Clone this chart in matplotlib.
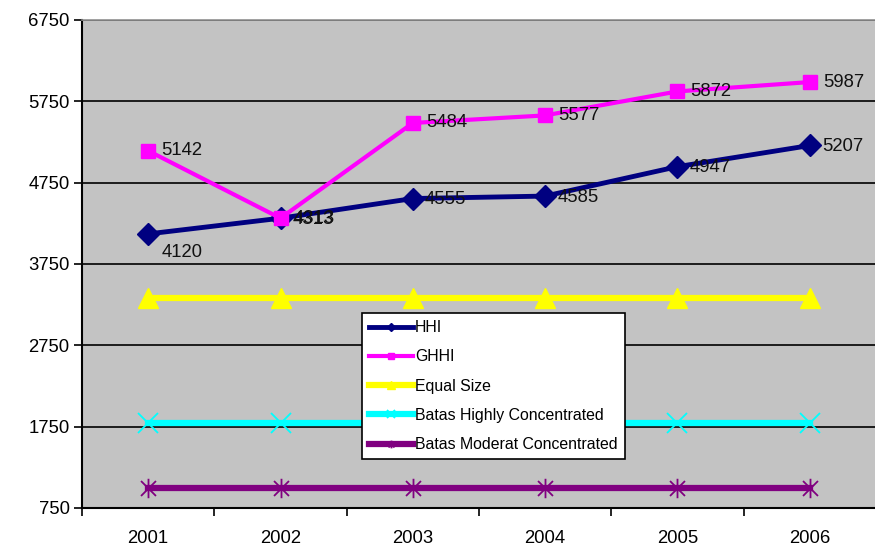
import matplotlib
matplotlib.use("Agg")
import matplotlib.pyplot as plt
from matplotlib.path import Path

years = ["2001", "2002", "2003", "2004", "2005", "2006"]
hhi = [4120, 4313, 4555, 4585, 4947, 5207]
ghhi = [5142, 4313, 5484, 5577, 5872, 5987]
equal_size = [3333, 3333, 3333, 3333, 3333, 3333]
batas_high = [1800, 1800, 1800, 1800, 1800, 1800]
batas_mod = [1000, 1000, 1000, 1000, 1000, 1000]
yticks = [750, 1750, 2750, 3750, 4750, 5750, 6750]

plt.rcParams['font.family'] = ['Liberation Sans', 'DejaVu Sans']

fig = plt.figure(figsize=(8.75, 5.51), dpi=100)
ax = fig.add_axes([82/875, 1-508/551, 794/875, 488/551])
ax.set_facecolor('#C3C3C3')

x = list(range(len(years)))

star = Path([(-1, -1), (1, 1), (-1, 1), (1, -1), (0, -1.3), (0, 1.3)],
            [Path.MOVETO, Path.LINETO, Path.MOVETO, Path.LINETO, Path.MOVETO, Path.LINETO])

ax.plot(x, batas_mod, color='#800080', lw=4.5, marker=star, ms=14, mew=1.3,
        mec='#800080', label='Batas Moderat Concentrated', zorder=3)
ax.plot(x, batas_high, color='#00FFFF', lw=4.5, marker='x', ms=14, mew=1.3,
        mec='#00FFFF', label='Batas Highly Concentrated', zorder=3)
ax.plot(x, equal_size, color='#FFFF00', lw=4.5, marker='^', ms=15,
        label='Equal Size', zorder=3)
ax.plot(x, hhi, color='#000080', lw=3.5, marker='D', ms=11,
        label='HHI', zorder=4)
ax.plot(x, ghhi, color='#FF00FF', lw=3, marker='s', ms=10,
        label='GHHI', zorder=5)

for i, v in enumerate(hhi):
    off = (13, -19) if i == 0 else (12, -1)
    ax.annotate(str(v), (x[i], v), xytext=off, textcoords='offset pixels',
                ha='left', va='center', fontsize=13.3, color='#111111', zorder=6)
for i, v in enumerate(ghhi):
    ax.annotate(str(v), (x[i], v), xytext=(13, 0), textcoords='offset pixels',
                ha='left', va='center', fontsize=13.3, color='#111111', zorder=6)

ax.set_xlim(-0.5, len(years) - 0.5)
ax.set_ylim(750, 6750)
ax.set_yticks(yticks)
ax.set_yticklabels([str(t) for t in yticks], fontsize=13.3)
ax.yaxis.grid(True, color='black', lw=1.2)
ax.set_axisbelow(True)
ax.tick_params(axis='y', direction='out', length=6, width=1.2, pad=3)

ax.set_xticks([i - 0.5 for i in range(len(years))] + [len(years) - 0.5])
ax.set_xticklabels([])
ax.set_xticks(x, minor=True)
ax.set_xticklabels(years, minor=True, fontsize=13.3)
ax.tick_params(axis='x', which='major', direction='out', length=6, width=1.2)
ax.tick_params(axis='x', which='minor', length=0, pad=16)

for s in ['left', 'bottom']:
    ax.spines[s].set_color('black')
    ax.spines[s].set_linewidth(1.5)
ax.spines['top'].set_color('#909090')
ax.spines['top'].set_linewidth(1.2)
ax.spines['right'].set_visible(False)

handles, labels = ax.get_legend_handles_labels()
order = ['HHI', 'GHHI', 'Equal Size', 'Batas Highly Concentrated', 'Batas Moderat Concentrated']
hmap = dict(zip(labels, handles))
leg = ax.legend([hmap[o] for o in order], order, loc='upper left',
                bbox_to_anchor=((362-82)/794, (508-313)/488), borderaxespad=0,
                fontsize=11.4, frameon=True, fancybox=False, shadow=False,
                handlelength=2.8, handletextpad=0.1, labelspacing=0.9,
                borderpad=0.45, markerscale=0.4)
leg.get_frame().set_edgecolor('black')
leg.get_frame().set_linewidth(1.2)
leg.get_frame().set_facecolor('white')
leg.get_frame().set_alpha(1)
leg.set_zorder(10)

fig.savefig('out.png', dpi=100)
